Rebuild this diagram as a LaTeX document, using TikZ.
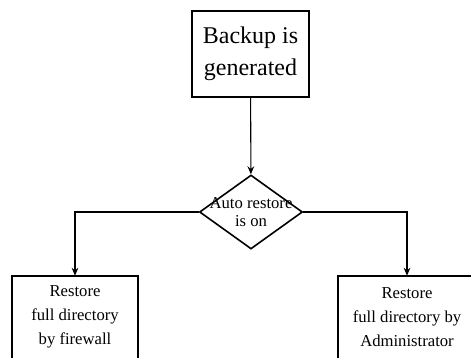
\documentclass[tikz,border=0pt]{standalone}
\usepackage{fontspec}
\setmainfont{Liberation Serif}
\usetikzlibrary{shapes.geometric,arrows.meta,positioning}

\tikzset{
    bigbox/.style={draw=black, line width=1.5pt, minimum width=87.75pt, minimum height=64.5pt, align=center, font=\fontsize{18}{24}\selectfont},
    decision/.style={draw=black, line width=1.2pt, diamond, minimum width=77.25pt, minimum height=55.5pt, inner sep=0pt},
    endbox/.style={minimum height=61.5pt, align=center, font=\fontsize{12.5}{18}\selectfont},
    flow/.style={black, line width=0.8pt, -{Stealth[length=6pt,width=5pt]}}
}

\begin{document}
\begin{tikzpicture}[x=0.75pt, y=0.75pt]
            \useasboundingbox (0,0) rectangle (471,358);
            \clip (0,0) rectangle (471,358);

            \node[bigbox] (backup) at (250.5,304) {Backup is\\generated};
            \node[decision] (auto) at (251,146) {};
            \node[align=center, inner sep=0pt, font=\fontsize{12.5}{13}\selectfont] (autotext) at (auto) {Auto restore\\is on};
            \node[endbox, minimum width=94.5pt] (fw) at (75,41) {Restore\\full directory\\by firewall};
            \node[endbox, minimum width=103.5pt] (admin) at (407,41) {Restore\\full directory by\\Administrator};

            \draw[black, line width=1.2pt] (fw.south west) -- (fw.north west) -- (fw.north east) -- (fw.south east);
            \draw[black, line width=1.2pt] (admin.south west) -- (admin.north west) -- (admin.north east) -- (admin.south east);

            \draw[flow] (backup) -- (auto);
            \draw[flow] (auto.west) -| (fw.north);
            \draw[flow] (auto.east) -| (admin.north);
        \end{tikzpicture}
\end{document}
